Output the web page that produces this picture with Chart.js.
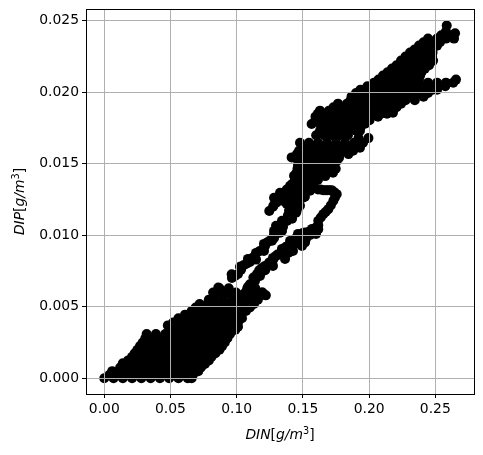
<!DOCTYPE html>
<html>
<head>
<meta charset="utf-8">
<script src="https://cdn.jsdelivr.net/npm/chart.js@4"></script>
<style>
  html, body { margin: 0; padding: 0; background: #fff; }
  canvas { display: block; }
</style>
</head>
<body>
<canvas id="myChart" width="483" height="455"></canvas>
<script>
const xTicks = [0, 0.05, 0.1, 0.15, 0.2, 0.25];
const yTicks = [0, 0.005, 0.01, 0.015, 0.02, 0.025];
const xLabels = ["0.00", "0.05", "0.10", "0.15", "0.20", "0.25"];
const yLabels = ["0.000", "0.005", "0.010", "0.015", "0.020", "0.025"];

// dense cloud near the origin
const cloudX = [
  0, .007, .014, .021, .028, .035, .042, .049, .056, .063, .066,
  .004, .011, .018, .025, .032, .039, .046, .053, .06, .067,
  .006, .015, .022, .029, .036, .043, .05, .057, .064, .071,
  .012, .018, .025, .032, .039, .046, .053, .06, .067, .073,
  .014, .021, .028, .035, .042, .049, .056, .063, .07, .076,
  .018, .0245, .0315, .0385, .0455, .0525, .0595, .0665, .0735, .079,
  .021, .028, .035, .042, .049, .056, .063, .07, .077, .081,
  .023, .0285, .0355, .0425, .0495, .0565, .0635, .0705, .0775, .084,
  .025, .032, .039, .046, .053, .06, .067, .074, .081, .087,
  .027, .0345, .0415, .0485, .0555, .0625, .0695, .0765, .0835, .089,
  .029, .036, .043, .05, .057, .064, .071, .078, .085, .091,
  .031, .0375, .0445, .0515, .0585, .0655, .0725, .0795, .0865, .093,
  .032, .039, .046, .053, .06, .067, .074, .081, .088, .095,
  .0515, .0585, .0655, .0725, .0795, .0865, .0935, .099,
  .048, .055, .062, .069, .076, .083, .09, .097, .101,
  .052, .0595, .0665, .0735, .0805, .0875, .0945, .101,
  .056, .063, .07, .077, .084, .091, .098, .104,
  .061, .0665, .0735, .0805, .0875, .0945, .103,
  .066, .073, .08, .087, .094, .101, .107,
  .069, .0755, .0825, .0895, .0965, .1035, .11,
  .072, .0786, .086, .093, .1, .107, .113,
  .079, .0825, .0895, .0965, .1035, .1105, .116,
  .083, .09, .097, .104, .111, .118, .122,
  .0855, .0925, .0995, .1065, .1135, .1195,
  .0822, .0861, .087, .094, .108, .114, .119
];
const cloudY = [
  0, 0, 0, 0, 0, 0, 0, 0, 0, 0, 0,
  .00025, .00025, .00025, .00025, .00025, .00025, .00025, .00025, .00025, .00025,
  .0005, .0005, .0005, .0005, .0005, .0005, .0005, .0005, .0005, .0005,
  .00075, .00075, .00075, .00075, .00075, .00075, .00075, .00075, .00075, .00075,
  .00105, .001, .001, .001, .001, .001, .001, .001, .001, .001,
  .00125, .00125, .00125, .00125, .00125, .00125, .00125, .00125, .00125, .00125,
  .0015, .0015, .0015, .0015, .0015, .0015, .0015, .0015, .0015, .0015,
  .00175, .00175, .00175, .00175, .00175, .00175, .00175, .00175, .00175, .00175,
  .002, .002, .002, .002, .002, .002, .002, .002, .002, .002,
  .00225, .00225, .00225, .00225, .00225, .00225, .00225, .00225, .00225, .00225,
  .0025, .0025, .0025, .0025, .0025, .0025, .0025, .0025, .0025, .0025,
  .0028, .0028, .0028, .0028, .0028, .0028, .0028, .0028, .0028, .0028,
  .0031, .0031, .0031, .0031, .0031, .0031, .0031, .0031, .0031, .0031,
  .0034, .0034, .0034, .0034, .0034, .0034, .0034, .0034,
  .0037, .0036, .0036, .0036, .0036, .0036, .0036, .0036, .0036,
  .0039, .0039, .0039, .0039, .0039, .0039, .0039, .0039,
  .0042, .0042, .0042, .0042, .0042, .0042, .0042, .0042,
  .00445, .00445, .00445, .00445, .00445, .00445, .00445,
  .0047, .0047, .0047, .0047, .0047, .0047, .0047,
  .00495, .00495, .00495, .00495, .00495, .00495, .00495,
  .0052, .00534, .0052, .0052, .0052, .0052, .0052,
  .0055, .0055, .0055, .0055, .0055, .0055, .0055,
  .0058, .0058, .0058, .0058, .0058, .0058, .0058,
  .006, .006, .006, .006, .006, .006,
  .006, .00635, .0063, .0063, .0063, .0063, .006
];

// upper arm of the middle section
const armX = [
  .0964, .101, .1055, .11, .1146, .1191, .1236, .1282, .1282, .1342, .1342, .138, .1395, .1433, .0962,
  .0987, .1033, .1078, .1123, .1168, .1214, .1259, .1282, .1312, .1342, .136, .1388, .1414, .1445, .141,
  .1146, .1206, .1267, .1312, .1297, .135, .1327, .1387, .1418, .1448, .1463, .1085, .1025, .1206
];
const armY = [
  .00702, .0073, .00793, .00814, .00877, .00898, .00954, .00982, .01031, .01031, .01101, .01101, .01171, .01171, .00728,
  .00716, .0076, .00803, .00845, .00887, .00926, .00968, .01005, .01031, .01066, .01101, .01136, .01171, .0122, .0122,
  .0083, .00891, .00962, .01018, .01067, .0106, .01018, .01137, .01116, .01158, .012, .00835, .0078, .0094
];

// short finger that ends at about 0.125
const fingerX = [
  .1246, .1302, .1352, .1403, .144, .1352, .1428, .1453, .1378, .1463, .15, .1433, .1516, .1554, .15, .1478, .1569, .1614,
  .1274, .1327, .1378, .1421, .139, .144, .1403, .1478, .1478, .1515, .1515, .1448, .1482, .1482, .153, .1553, .1535, .1462, .1462, .1452, .1433,
  .1327, .1327, .1282, .1282, .138, .138, .1425, .1425
];
const fingerY = [
  .0117, .0123, .0129, .01347, .0139, .0124, .0129, .01347, .0122, .01466, .01522, .01417, .01417, .01312, .01263, .01207, .01382, .01452,
  .012, .0126, .0132, .0136, .0127, .0132, .0127, .0128, .0135, .0133, .0127, .0143, .0145, .014, .0137, .0142, .0149, .0127, .0122, .0117, .0125,
  .01298, .01249, .01263, .01214, .01312, .01263, .0136, .01312
];

// lower arm and the hook that returns to the body
const hookX = [
  .11, .1138, .1153, .1176, .1198, .1191, .11, .1251, .1227, .1277,
  .134, .1403, .1453, .1516, .1516, .1579, .1616, .1616, .1654, .1692,
  .173, .1755, .1717, .1685, .1653, .1614,
  .1274, .1365, .1425, .1493, .1214, .1274, .1342, .1403, .1463,
  .1086, .1126, .117, .1215, .1245, .1308, .1372, .1395, .1432, .146,
  .1485, .1545, .1495, .1598, .1616, .1635, .1673, .1711, .1742, .1736, .1701, .1669, .1633,
  .1251, .1297, .135, .1387, .1387, .144, .144, .1486, .1523, .15, .1554, .1569, .1599
];
const hookY = [
  .00658, .00681, .0073, .00716, .00751, .00772, .00625, .00798, .00786, .00833,
  .00891, .00938, .00985, .0102, .0095, .01031, .01043, .01102, .01148, .01183,
  .01242, .01288, .01316, .01316, .01316, .0132,
  .00786, .00835, .00891, .00926, .00786, .00842, .00905, .00961, .0101,
  .0064, .00705, .00755, .00755, .0081, .00865, .0092, .0088, .0096, .0095,
  .00995, .01025, .0095, .01055, .0107, .01125, .01165, .0121, .01265, .01302, .01316, .01316, .0132,
  .00807, .00856, .00891, .00877, .00926, .0094, .00975, .00961, .00975, .01017, .01003, .01045, .0101
];

// block between 0.014 and 0.017
const bodyX = [
  .16, .166, .172, .178, .184,
  .192, .1995,
  .1478, .1546, .1614, .1682, .175, .1818, .1886, .1954,
  .1512, .158, .1648, .1716, .1784, .1852, .192,
  .1471, .1538, .1607, .1675, .1743, .1811, .1879, .1931,
  .1455, .1504, .1572, .164, .1708, .1776, .1844,
  .1415, .144, .1501, .1569, .1637, .1705, .1773,
  .147, .1497, .1565, .1633, .1701, .1755,
  .1463, .1531, .1599, .1667, .1735, .1748,
  .1459, .1493, .1561, .1629, .1697,
  .1455, .1523, .159, .1658, .1727,
  .1467, .1535, .1602, .1669,
  .1478, .1546, .1614,
  .151, .158,
  .1493, .1569
];
const bodyY = [
  .017, .017, .017, .017, .017,
  .0168, .0168,
  .01648, .01648, .01648, .01648, .01648, .01648, .01648, .01648,
  .0162, .0162, .0162, .0162, .0162, .0162, .0162,
  .01592, .01592, .01592, .01592, .01592, .01592, .01592, .01613,
  .01568, .01568, .01568, .01568, .01568, .01568, .01568,
  .01545, .01543, .01543, .01543, .01543, .01543, .01543,
  .01518, .01518, .01518, .01518, .01518, .01518,
  .01494, .01494, .01494, .01494, .01494, .01466,
  .01466, .01466, .01466, .01466, .01466,
  .01438, .01438, .01438, .01438, .01438,
  .01414, .01414, .01414, .01414,
  .01389, .01389, .01389,
  .01365, .01365,
  .0134, .0134
];

// wide band up to the two tips
const bandX = [
  .1629, .1697, .1765, .1833, .1901, .1931,
  .1663, .1731, .1799, .1867, .1935,
  .1566, .1629, .1697, .1765, .1833, .1901, .1969,
  .1595, .1663, .1731, .1799, .1867, .1935, .2003,
  .1595, .1663, .1731, .1799, .1867, .1935, .2003, .2067,
  .1612, .168, .1748, .1816, .1884, .1952, .202, .2088, .2135, .218,
  .1629, .1697, .1765, .1833, .1901, .1969, .2037, .2105, .2173,
  .1731, .1799, .1867, .1935, .2003, .2071, .2139, .2207,
  .1765, .1833, .1856, .1901, .1969, .2037, .2105, .2173, .2241,
  .1867, .1935, .2003, .2071, .2139, .2207, .2275, .2345,
  .1867, .1935, .2003, .2071, .2139, .2207, .2275, .2343, .2411,
  .1901, .1969, .2037, .2105, .2173, .2241, .2309, .2377, .2445,
  .1935, .1984, .2003, .2071, .2139, .2207, .2275, .2343, .2411, .2479, .2513,
  .1987, .2037, .2105, .2173, .2241, .2309, .2377, .2445, .2513, .2575,
  .2037, .2105, .2173, .2241, .2309, .2377, .2445, .2513, .258, .2635,
  .2071, .2139, .2207, .2275, .2343, .2375, .2656,
  .2105, .2173, .2241, .2309, .2385,
  .2139, .2207, .2275, .2343, .2395,
  .2173, .2196, .2241, .2309, .2377, .2421,
  .2207, .2275, .2343, .2411, .2453,
  .2241, .2309, .2377, .2445, .2483,
  .2275, .2343, .2411, .2475,
  .2309, .2377, .2445, .2479,
  .2343, .2411, .2479,
  .2377, .2445, .2513,
  .2411, .2479, .2535,
  .2445, .2513, .258, .2641,
  .2545, .2613,
  .258, .2649,
  .2586
];
const bandY = [
  .01732, .01732, .01732, .01732, .01732, .01732,
  .01755, .01755, .01755, .01755, .01755,
  .01779, .01781, .01781, .01781, .01781, .01781, .01781,
  .01805, .01805, .01805, .01805, .01805, .01805, .01805,
  .0183, .0183, .0183, .0183, .0183, .0183, .0183, .0183,
  .0185, .0185, .0185, .0185, .0185, .0185, .0185, .0185, .0185, .01858,
  .01872, .01872, .01872, .01872, .01872, .01872, .01872, .01872, .01872,
  .01896, .01896, .01896, .01896, .01896, .01896, .01896, .01896,
  .01921, .01921, .0194, .01921, .01921, .01921, .01921, .01921, .01921,
  .01945, .01945, .01945, .01945, .01945, .01945, .01945, .01945,
  .0197, .0197, .0197, .0197, .0197, .0197, .0197, .0197, .0197,
  .01995, .01995, .01995, .01995, .01995, .01995, .01995, .01995, .01995,
  .02019, .02026, .02019, .02019, .02019, .02019, .02019, .02019, .02019, .02019, .02019,
  .02043, .02043, .02043, .02043, .02043, .02043, .02043, .02043, .02043, .02043,
  .02068, .02068, .02068, .02068, .02068, .02068, .02068, .02068, .02068, .02068,
  .0209, .0209, .0209, .0209, .0209, .0209, .02089,
  .02117, .02117, .02117, .02117, .02117,
  .0214, .0214, .0214, .0214, .0214,
  .02166, .0217, .02166, .02166, .02166, .02166,
  .0219, .0219, .0219, .0219, .0219,
  .02222, .02222, .02222, .02222, .02222,
  .0225, .0225, .0225, .0225,
  .02278, .02278, .02278, .02278,
  .023, .023, .023,
  .02327, .02327, .02327,
  .0235, .0235, .0235,
  .02376, .02376, .02376, .02376,
  .024, .024,
  .02425, .02413,
  .02467
];

const din = [...cloudX, ...armX, ...fingerX, ...hookX, ...bodyX, ...bandX];
const dip = [...cloudY, ...armY, ...fingerY, ...hookY, ...bodyY, ...bandY];

const points = din.map((v, i) => ({ x: v, y: dip[i] }));

const fontFamily = "'DejaVu Sans'";

// draws a label like DIN[g/m^3], italic letters with upright brackets
function drawLabel(ctx, name, cx, cy, angle) {
  const runs = [
    [name, "italic 13.9px ", 0],
    ["[", "13.9px ", 0],
    ["g/m", "italic 13.9px ", 0],
    ["3", "9.7px ", -5.5],
    ["]", "13.9px ", 0],
  ];
  let width = 0;
  runs.forEach((r) => {
    ctx.font = r[1] + fontFamily;
    width += ctx.measureText(r[0]).width;
  });
  ctx.save();
  ctx.translate(cx, cy);
  ctx.rotate(angle);
  ctx.fillStyle = "#000";
  ctx.textBaseline = "alphabetic";
  let pos = -width / 2;
  runs.forEach((r) => {
    ctx.font = r[1] + fontFamily;
    ctx.fillText(r[0], pos, r[2]);
    pos += ctx.measureText(r[0]).width;
  });
  ctx.restore();
}

// top and right spines, axis labels
const frame = {
  id: "frame",
  afterDraw: (chart) => {
    const { ctx, chartArea: a } = chart;
    ctx.save();
    ctx.strokeStyle = "#000";
    ctx.lineWidth = 1;
    ctx.strokeRect(a.left + 0.5, a.top + 0.5, a.right - a.left, a.bottom - a.top);
    ctx.restore();
    drawLabel(ctx, "DIN", (a.left + a.right) / 2, 439, 0);
    drawLabel(ctx, "DIP", 24, (a.top + a.bottom) / 2, -Math.PI / 2);
  },
};

const font = { family: fontFamily, size: 13.9 };

new Chart(document.getElementById("myChart"), {
  type: "scatter",
  data: {
    datasets: [
      {
        data: points,
        backgroundColor: "#000",
        borderWidth: 0,
        pointRadius: 5,
      },
    ],
  },
  plugins: [frame],
  options: {
    responsive: false,
    animation: false,
    layout: { padding: { left: 0, top: 9, right: 9, bottom: 0 } },
    plugins: { legend: { display: false }, tooltip: { enabled: false } },
    scales: {
      x: {
        type: "linear",
        min: -0.0138,
        max: 0.2792,
        afterBuildTicks: (s) => { s.ticks = xTicks.map((v) => ({ value: v })); },
        afterFit: (s) => { s.height = 61; s.paddingLeft = 0; s.paddingRight = 0; },
        border: { display: false },
        grid: { color: "#b0b0b0", lineWidth: 1, z: 1, tickLength: 4, tickColor: "#000" },
        ticks: {
          color: "#000",
          font: font,
          padding: 3,
          maxRotation: 0,
          callback: (v) => xLabels[xTicks.indexOf(v)],
        },
      },
      y: {
        type: "linear",
        min: -0.0011,
        max: 0.02583,
        afterBuildTicks: (s) => { s.ticks = yTicks.map((v) => ({ value: v })); },
        afterFit: (s) => { s.width = 86; s.paddingTop = 0; s.paddingBottom = 0; },
        border: { display: false },
        grid: { color: "#b0b0b0", lineWidth: 1, z: 1, tickLength: 4, tickColor: "#000" },
        ticks: {
          color: "#000",
          font: font,
          padding: 3,
          callback: (v) => yLabels[yTicks.indexOf(v)],
        },
      },
    },
  },
});
</script>
</body>
</html>
